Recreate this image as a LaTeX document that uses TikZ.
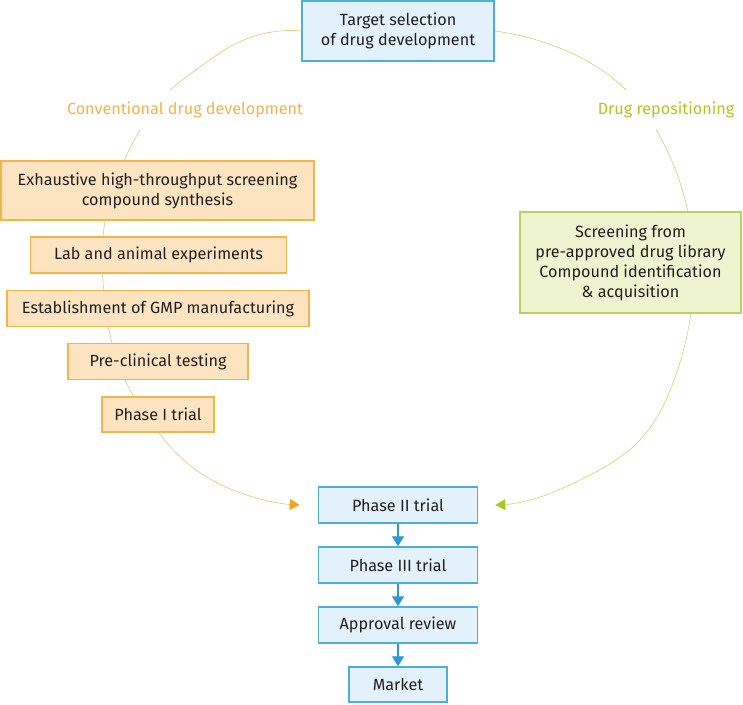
\documentclass[tikz,border=0pt]{standalone}
\usepackage{fontspec}
\setmainfont{Fira Sans}
\usetikzlibrary{
  hobby,
  arrows.meta,
  backgrounds,
}
\definecolor{bluefill}{HTML}{E2F1FA}
\definecolor{blueline}{HTML}{4BAFD9}
\definecolor{bluetip}{HTML}{2A9AD6}
\definecolor{orangefill}{HTML}{FCE4C0}
\definecolor{orangeline}{HTML}{F3B449}
\definecolor{orangecurve}{HTML}{EFAA35}
\definecolor{orangetip}{HTML}{F5A21C}
\definecolor{greenfill}{HTML}{EEF4D0}
\definecolor{greenline}{HTML}{B7D35C}
\definecolor{greencurve}{HTML}{ADCC36}
\definecolor{greentip}{HTML}{A8C81A}
\definecolor{inktext}{HTML}{231F20}

\begin{document}
\begin{tikzpicture}[
  x=1pt, y=-1pt,
  every node/.style={font=\fontsize{16.2}{20}\selectfont, text=inktext, align=center, inner sep=0pt},
  bluebox/.style={draw=blueline, fill=bluefill, line width=1.5pt},
  orangebox/.style={draw=orangeline, fill=orangefill, line width=1.5pt},
  greenbox/.style={draw=greenline, fill=greenfill, line width=1.5pt},
  routelabel/.style={fill=white, inner xsep=2pt, inner ysep=12pt},
  steparrow/.style={bluetip, line width=1.3pt, -{Triangle[length=10pt,width=12pt]}},
]
\useasboundingbox (0,0) rectangle (743,704);

% top and the two routes
\node[bluebox, minimum width=192pt, minimum height=60pt] (target) at (398,31) {Target selection\\of drug development};
\node[routelabel, text=orangeline] (convlabel) at (185,110) {Conventional drug development};
\node[routelabel, text=greentip!85!orangeline] (repolabel) at (666,110) {Drug repositioning};

% conventional route
\node[orangebox, minimum width=313pt, minimum height=59pt] (exhaustive) at (157.5,190.5) {Exhaustive high-throughput screening\\compound synthesis};
\node[orangebox, minimum width=256pt, minimum height=36pt] (lab) at (158.5,255) {Lab and animal experiments};
\node[orangebox, minimum width=302pt, minimum height=36pt] (gmp) at (158,308.5) {Establishment of GMP manufacturing};
\node[orangebox, minimum width=180pt, minimum height=36pt] (preclin) at (158,361.5) {Pre-clinical testing};
\node[orangebox, minimum width=112pt, minimum height=35pt] (phaseone) at (158,414.5) {Phase I trial};

% repositioning route
\node[greenbox, minimum width=221pt, minimum height=101pt] (screening) at (630.5,262.5) {Screening from\\pre-approved drug library\\Compound identification\\\& acquisition};

% common clinical steps
\node[bluebox, minimum width=159pt, minimum height=36pt] (phasetwo) at (398,505) {Phase II trial};
\node[bluebox, minimum width=159pt, minimum height=36pt] (phasethree) at (398,565) {Phase III trial};
\node[bluebox, minimum width=159pt, minimum height=36pt] (approval) at (398,625) {Approval review};
\node[bluebox, minimum width=98pt, minimum height=35pt] (market) at (398,684.5) {Market};

\coordinate (convend) at ([xshift=-18pt]phasetwo.west);
\coordinate (repoend) at ([xshift=17pt]phasetwo.east);

\draw[steparrow] (phasetwo) -- (phasethree);
\draw[steparrow] (phasethree) -- (approval);
\draw[steparrow] (approval) -- (market);

\begin{scope}[on background layer, use Hobby shortcut, line width=1.6pt]
\draw[orangecurve, -{Triangle[length=10pt,width=11pt,fill=orangetip]}]
  (target.west) .. (233,45) .. (200,67) .. (168,92) .. (141,128) .. (124,161)
  .. (104,228) .. (103,282) .. (110,335) .. (129,388) .. (158,432)
  .. (187,463) .. (233,490) .. (convend);
\draw[greencurve, -{Triangle[length=10pt,width=11pt,fill=greentip]}]
  (target.east) .. (557,47) .. (628,92) .. (655,128) .. (688,212) .. (691,313)
  .. (673,383) .. (640,440) .. (580,480) .. (530,500) .. (repoend);
\end{scope}
\end{tikzpicture}
\end{document}
